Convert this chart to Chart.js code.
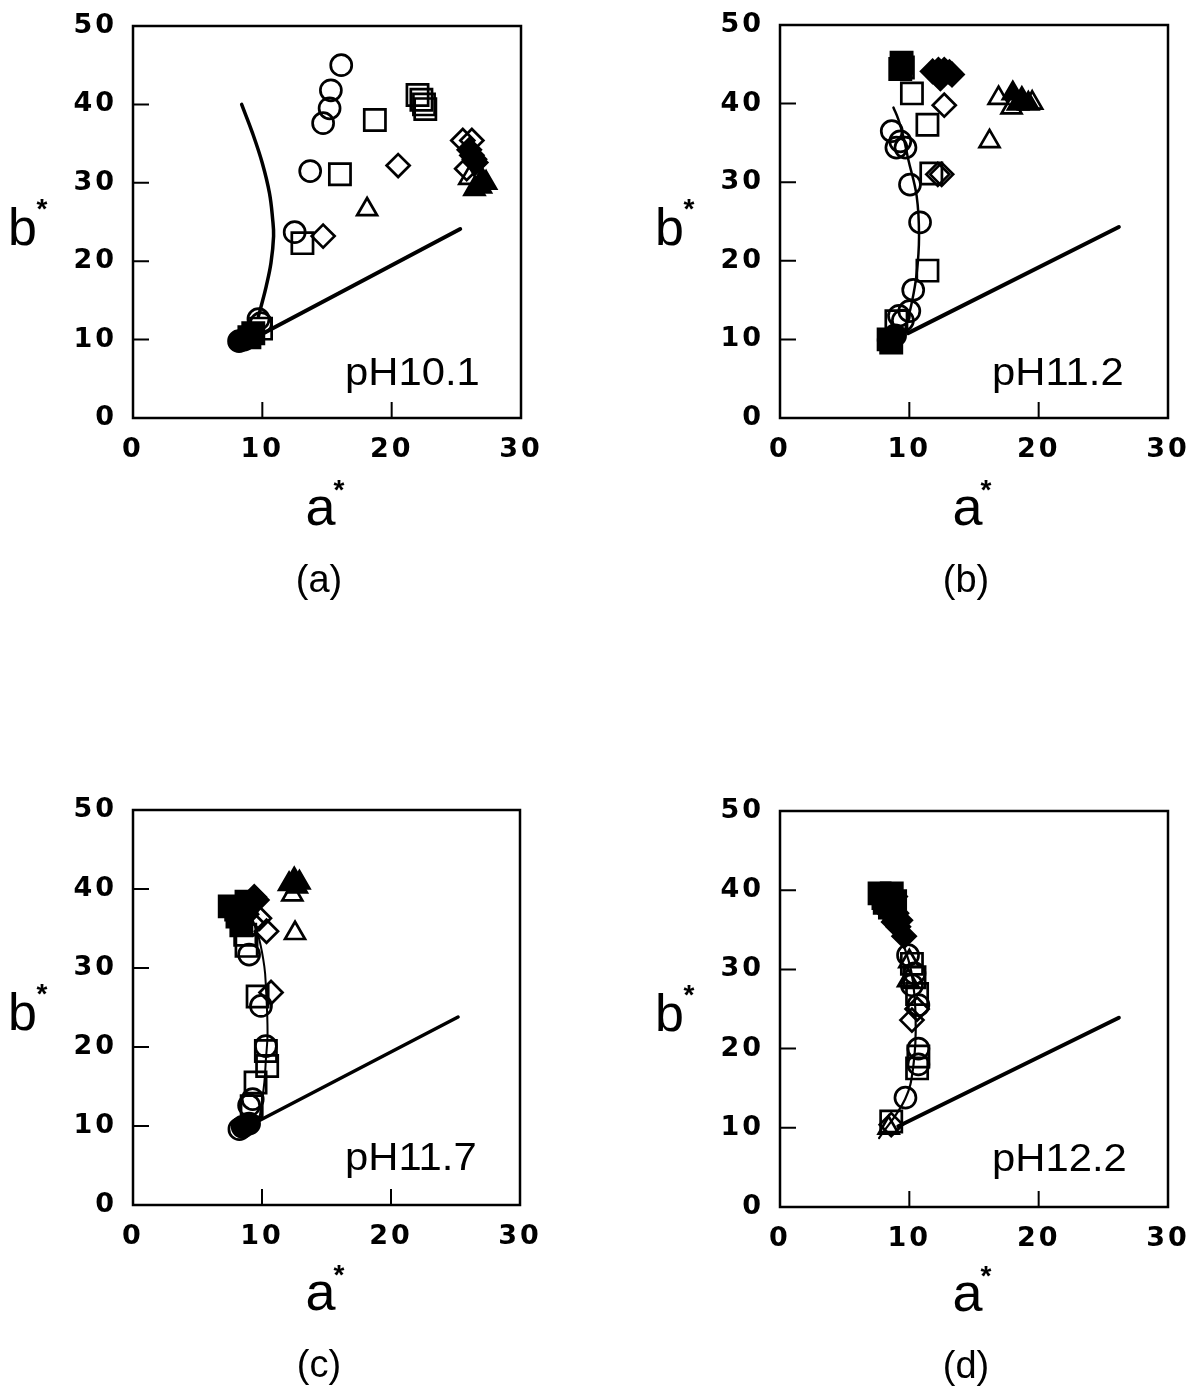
<!DOCTYPE html>
<html><head><meta charset="utf-8">
<script src="https://cdn.jsdelivr.net/npm/chart.js@4.4.1/dist/chart.umd.min.js"></script>
<style>
html,body{margin:0;padding:0;background:#fff;}
body{width:1192px;height:1387px;position:relative;overflow:hidden;font-family:"Liberation Sans",Arial,sans-serif;color:#000;}
canvas{position:absolute;}
.t{position:absolute;line-height:1;white-space:nowrap;color:#000;}
</style></head><body>
<canvas id="cA" width="596" height="480" style="left:0;top:0"></canvas>
<canvas id="cB" width="596" height="480" style="left:596px;top:0"></canvas>
<canvas id="cC" width="596" height="480" style="left:0;top:785px"></canvas>
<canvas id="cD" width="596" height="480" style="left:596px;top:785px"></canvas>
<script>
// ---------- axes / labels ----------
const xTicks = [0, 10, 20, 30];
const yTicks = [0, 10, 20, 30, 40, 50];
const xTitle = 'a';
const yTitle = 'b';
const titleStar = '*';
const panelLabels = ['(a)', '(b)', '(c)', '(d)'];
const phLabels = ['pH10.1', 'pH11.2', 'pH11.7', 'pH12.2'];

// ---------- panel (a) pH10.1 ----------
const a_curve = [[8.4,40.0],[9.25,36.3],[10.0,32.5],[10.55,28.7],[10.8,25.3],[10.87,23.2],[10.67,19.8],[10.3,16.8],[9.9,14.2],[9.7,13.0]];
const a_line = [[9.5,10.3],[25.3,24.1]];
const a_openCircle = [[16.1,45.0],[15.3,41.8],[15.2,39.5],[14.7,37.6],[13.7,31.5],[12.5,23.7],[9.7,12.6],[9.9,12.1]];
const a_openSquare = [[18.7,38.0],[16.0,31.1],[13.1,22.3],[22.0,41.2],[22.3,40.6],[22.5,40.0],[22.6,39.4],[9.9,11.4]];
const a_openDiamond = [[20.5,32.2],[14.7,23.2],[25.5,35.4],[26.2,35.4],[25.8,31.8],[26.4,33.0]];
const a_openTriangle = [[18.1,26.6],[26.0,30.6]];
const a_filledCircle = [[8.2,9.8],[8.6,10.0]];
const a_filledSquare = [[9.0,10.3],[9.3,10.8]];
const a_filledDiamond = [[26.2,33.5],[26.5,32.6],[26.0,34.2],[8.5,10.2]];
const a_filledTriangle = [[26.9,29.5],[27.3,30.0],[26.4,29.2],[27.0,30.4],[8.7,9.9]];

// ---------- panel (b) pH11.2 ----------
const b_curve = [[8.77,39.5],[9.15,38.0],[9.54,35.8],[9.92,32.9],[10.57,28.2],[10.75,23.1],[10.57,18.4],[10.18,14.6],[9.67,11.2]];
const b_line = [[9.9,10.8],[26.2,24.3]];
const b_openCircle = [[8.64,36.5],[9.0,34.4],[9.7,34.4],[9.3,35.2],[10.05,29.7],[10.83,24.9],[10.3,16.3],[10.0,13.6],[9.2,13.0],[9.5,12.4]];
const b_openSquare = [[9.5,44.6],[10.2,41.3],[11.4,37.3],[11.7,31.1],[11.4,18.75],[9.0,12.3]];
const b_openDiamond = [[12.7,39.8],[12.5,31.0],[12.2,31.0]];
const b_openTriangle = [[16.2,35.2],[16.9,40.7],[17.9,39.5],[19.5,40.1]];
const b_filledCircle = [[8.4,9.9],[8.9,10.5]];
const b_filledSquare = [[9.4,45.2],[9.3,44.4],[8.4,10.0],[8.6,9.6]];
const b_filledDiamond = [[11.8,44.1],[12.25,44.3],[12.7,44.3],[13.1,44.0],[12.4,43.2],[13.3,43.7]];
const b_filledTriangle = [[18.0,41.3],[18.7,40.6],[19.2,40.0],[18.4,40.0]];

// ---------- panel (c) pH11.7 ----------
const c_curve = [[8.77,39.1],[9.28,36.1],[9.79,33.6],[10.18,30.2],[10.3,27.7],[10.43,21.8],[10.3,18.4],[10.18,15.5],[9.79,10.8]];
const c_line = [[9.8,10.7],[25.2,23.8]];
const c_openCircle = [[9.0,31.7],[9.92,25.2],[10.3,20.1],[9.28,13.4],[8.25,9.6],[9.0,12.6]];
const c_openSquare = [[8.8,32.8],[8.7,34.2],[9.66,26.4],[10.3,19.5],[10.4,17.6],[9.5,15.5],[9.2,12.5]];
const c_openDiamond = [[9.8,36.3],[10.35,34.65],[10.7,26.9],[9.3,35.6]];
const c_openTriangle = [[12.35,39.3],[12.56,34.4]];
const c_filledCircle = [[8.5,9.9],[9.0,10.3]];
const c_filledSquare = [[7.5,37.8],[8.0,37.4],[8.1,36.5],[8.8,38.4],[8.4,35.4]];
const c_filledDiamond = [[9.4,39.0],[9.6,38.6],[9.0,38.2],[8.8,36.8]];
const c_filledTriangle = [[12.5,41.2],[12.9,40.8],[12.1,40.6],[12.7,40.3]];

// ---------- panel (d) pH12.2 ----------
const d_curve = [[7.6,40.0],[8.38,37.5],[9.41,33.7],[10.18,29.5],[10.49,23.6],[10.31,17.8],[9.67,13.6],[7.66,8.7]];
const d_line = [[9.15,10.2],[26.2,23.9]];
const d_openCircle = [[9.9,31.8],[10.4,29.5],[10.7,25.5],[10.7,20.0],[10.7,18.0],[9.7,13.8],[10.2,28.0]];
const d_openSquare = [[10.2,30.7],[10.6,26.9],[10.7,19.0],[10.6,17.5],[8.6,10.8],[10.4,29.0]];
const d_openDiamond = [[10.2,23.6],[10.6,25.0],[8.6,10.4]];
const d_openTriangle = [[9.9,28.6],[10.0,31.0],[8.4,10.0]];
const d_filledCircle = [];
const d_filledSquare = [[7.7,39.6],[8.3,39.4],[8.64,39.6],[8.1,38.4],[8.5,37.8],[8.0,39.0],[8.9,38.6]];
const d_filledDiamond = [[8.9,39.2],[8.4,37.2],[9.0,37.1],[9.15,35.4],[9.6,34.2],[8.8,36.0],[8.6,38.4],[9.3,36.2]];
const d_filledTriangle = [];

// ---------- styling ----------
const MARK = {
  circle:   {pointStyle:'circle',   r:10.5},
  square:   {pointStyle:'rect',     r:15},
  diamond:  {pointStyle:'rectRot',  r:11.5},
  triangle: {pointStyle:'triangle', r:11.5}
};
const toXY = arr => arr.map(p => ({x:p[0], y:p[1]}));

function markerSet(pts, kind, filled){
  const m = MARK[kind];
  return {type:'scatter', data: toXY(pts), pointStyle:m.pointStyle, pointRadius:m.r,
    pointBorderWidth:2.7, pointBorderColor:'#000',
    pointBackgroundColor: filled ? '#000' : 'rgba(0,0,0,0)', showLine:false};
}
function lineSet(pts, w, tension){
  return {type:'scatter', data: toXY(pts), showLine:true, pointRadius:0, borderColor:'#000',
    borderWidth:w, tension:tension, borderCapStyle:'round', borderJoinStyle:'round', fill:false};
}

const spacingPlugin = {id:'sp',
  beforeDraw(c){ c.ctx.letterSpacing = '3px'; },
  afterDraw(c){ c.ctx.letterSpacing = '0px'; }
};
const framePlugin = {id:'frame',
  afterDraw(c){
    const {ctx, chartArea:a, scales} = c;
    ctx.save();
    ctx.strokeStyle = '#000';
    ctx.lineWidth = 2.5;
    ctx.strokeRect(a.left, a.top, a.right - a.left, a.bottom - a.top);
    ctx.lineWidth = 2;
    ctx.beginPath();
    yTicks.slice(1, -1).forEach(v => { const y = scales.y.getPixelForValue(v); ctx.moveTo(a.left, y); ctx.lineTo(a.left + 16, y); });
    xTicks.slice(1, -1).forEach(v => { const x = scales.x.getPixelForValue(v); ctx.moveTo(x, a.bottom); ctx.lineTo(x, a.bottom - 16); });
    ctx.stroke();
    ctx.restore();
  }
};
function zeroPad(s){ s.paddingTop = 0; s.paddingBottom = 0; s.paddingLeft = 0; s.paddingRight = 0; }

function makePanel(id, area, sets, curve, line, curveW, lineW){
  const cv = document.getElementById(id);
  const W = cv.width, H = cv.height;
  const datasets = [
    markerSet(sets.openCircle, 'circle', false),
    markerSet(sets.openSquare, 'square', false),
    markerSet(sets.openDiamond, 'diamond', false),
    markerSet(sets.openTriangle, 'triangle', false),
    markerSet(sets.filledCircle, 'circle', true),
    markerSet(sets.filledSquare, 'square', true),
    markerSet(sets.filledDiamond, 'diamond', true),
    markerSet(sets.filledTriangle, 'triangle', true),
    lineSet(curve, curveW, 0.4),
    lineSet(line, lineW, 0)
  ];
  const fit = {yWidth: area.left, xHeight: H - area.bottom};
  const tickFont = {family:'"DejaVu Sans", sans-serif', weight:'bold', size:27};
  new Chart(cv, {
    type:'scatter',
    data:{datasets},
    options:{
      responsive:false, animation:false, events:[],
      layout:{padding:{left:0, top:area.top, right:W - area.right, bottom:0}},
      plugins:{legend:{display:false}, tooltip:{enabled:false}},
      scales:{
        x:{type:'linear', min:0, max:30,
          afterBuildTicks: s => { s.ticks = xTicks.map(v => ({value:v})); },
          afterFit: s => { s.height = fit.xHeight; zeroPad(s); },
          grid:{display:false, drawTicks:false}, border:{display:false},
          ticks:{font:tickFont, color:'#000', padding:16, autoSkip:false, maxRotation:0, callback:v => String(v)}},
        y:{type:'linear', min:0, max:50,
          afterBuildTicks: s => { s.ticks = yTicks.map(v => ({value:v})); },
          afterFit: s => { s.width = fit.yWidth; zeroPad(s); },
          grid:{display:false, drawTicks:false}, border:{display:false},
          ticks:{font:tickFont, color:'#000', padding:16, autoSkip:false, callback:v => String(v)}}
      }
    },
    plugins:[spacingPlugin, framePlugin]
  });
}

const setsOf = p => ({
  openCircle: p.oc, openSquare: p.os, openDiamond: p.od, openTriangle: p.ot,
  filledCircle: p.fc, filledSquare: p.fs, filledDiamond: p.fd, filledTriangle: p.ft
});
makePanel('cA', {left:133, top:26, right:521, bottom:418},
  setsOf({oc:a_openCircle, os:a_openSquare, od:a_openDiamond, ot:a_openTriangle, fc:a_filledCircle, fs:a_filledSquare, fd:a_filledDiamond, ft:a_filledTriangle}),
  a_curve, a_line, 3.5, 4);
makePanel('cB', {left:184, top:25, right:572, bottom:418},
  setsOf({oc:b_openCircle, os:b_openSquare, od:b_openDiamond, ot:b_openTriangle, fc:b_filledCircle, fs:b_filledSquare, fd:b_filledDiamond, ft:b_filledTriangle}),
  b_curve, b_line, 2.5, 4);
makePanel('cC', {left:133, top:25, right:520, bottom:420},
  setsOf({oc:c_openCircle, os:c_openSquare, od:c_openDiamond, ot:c_openTriangle, fc:c_filledCircle, fs:c_filledSquare, fd:c_filledDiamond, ft:c_filledTriangle}),
  c_curve, c_line, 2, 3.5);
makePanel('cD', {left:184, top:26, right:572, bottom:422},
  setsOf({oc:d_openCircle, os:d_openSquare, od:d_openDiamond, ot:d_openTriangle, fc:d_filledCircle, fs:d_filledSquare, fd:d_filledDiamond, ft:d_filledTriangle}),
  d_curve, d_line, 2.2, 4);

// ---------- HTML text ----------
function addText(txt, x, baseline, size, opts){
  opts = opts || {};
  const d = document.createElement('div');
  d.className = 't';
  d.textContent = txt;
  d.style.fontSize = size + 'px';
  d.style.top = (baseline - 0.8465 * size) + 'px';
  d.style.left = x + 'px';
  if (opts.bold) d.style.fontWeight = 'bold';
  let tf = '';
  if (opts.center) tf += 'translateX(-50%) ';
  if (opts.sx) { tf += 'scaleX(' + opts.sx + ')'; d.style.transformOrigin = 'left center'; }
  if (tf) d.style.transform = tf;
  document.body.appendChild(d);
}
function addStar(cx, cy){
  const s = 28;
  addText(titleStar, cx - 0.389 * s / 2, cy + 0.58 * s, s, {bold:true});
}
const offsets = [[0,0],[647,0],[0,785],[647,786]];
offsets.forEach((o, i) => {
  const [ox, oy] = o;
  addText(yTitle, 8 + ox, 245 + oy, 52);
  addStar(42 + ox, 202 + oy);
  addText(xTitle, 320.5 + ox, 525 + oy, 54, {center:true});
  addStar(339 + ox, 483 + oy);
  addText(panelLabels[i], 319 + ox, 592 + oy, 38, {center:true});
  addText(phLabels[i], 345 + ox, 385 + oy, 38, {sx:1.1});
});
</script>
</body></html>
